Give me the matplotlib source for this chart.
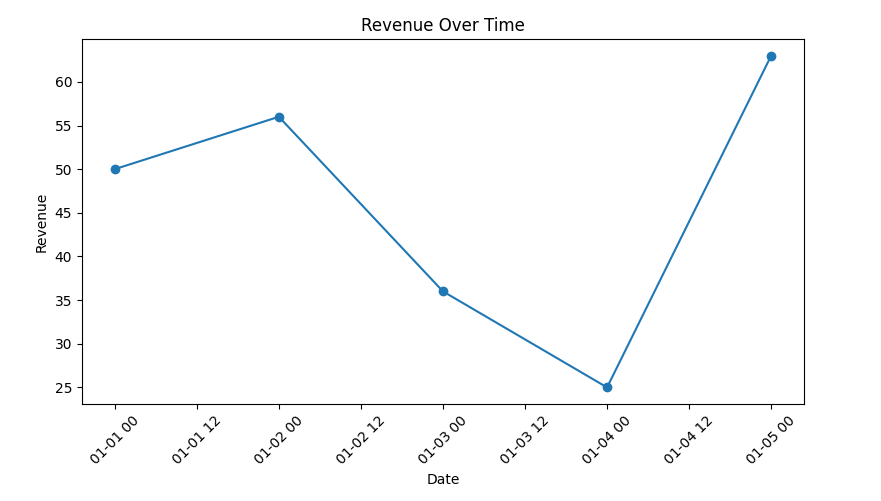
import matplotlib
matplotlib.use("Agg")
import matplotlib.pyplot as plt
import pandas as pd

# data
dates = pd.to_datetime(["2023-01-01", "2023-01-02", "2023-01-03", "2023-01-04", "2023-01-05"])
revenue = [50, 56, 36, 25, 63]

fig, ax = plt.subplots(figsize=(8.81, 5.01), dpi=100)
fig.subplots_adjust(left=0.093, right=0.9126, top=0.922, bottom=0.1936)

ax.plot(dates, revenue, marker="o")
ax.set_title("Revenue Over Time")
ax.set_xlabel("Date")
ax.set_ylabel("Revenue")
plt.setp(ax.get_xticklabels(), rotation=45)

fig.savefig("out.png", dpi=100)
